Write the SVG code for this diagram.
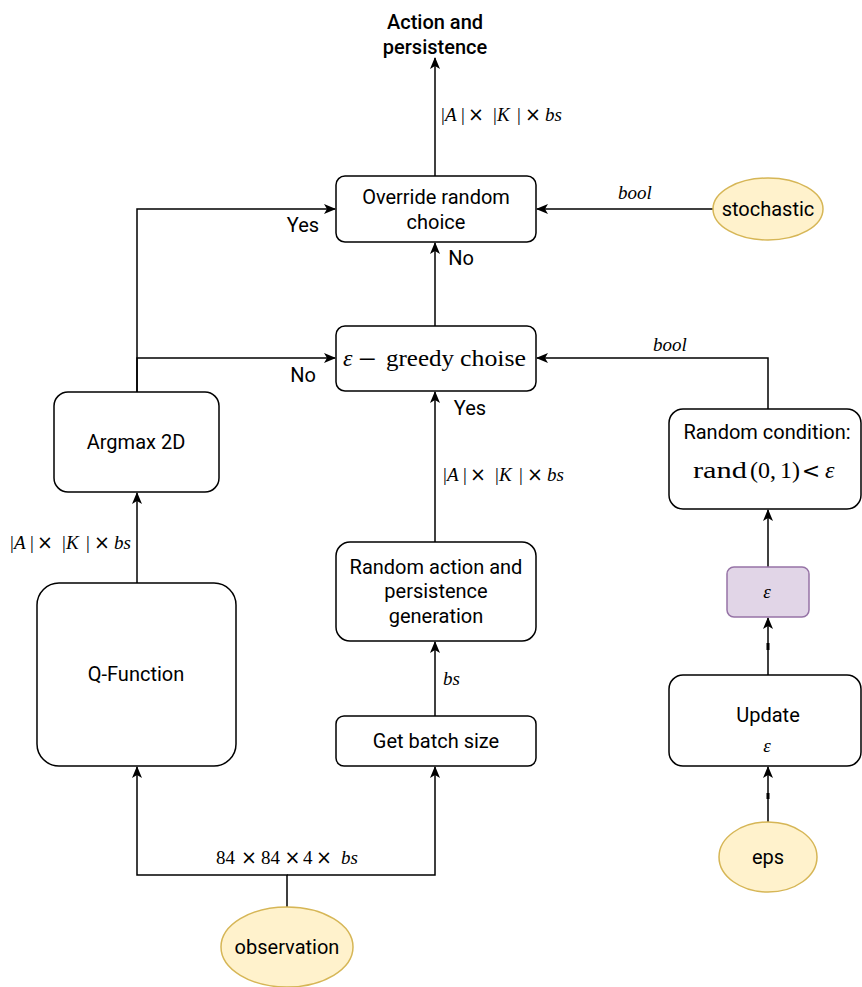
<svg xmlns="http://www.w3.org/2000/svg" width="862" height="987" viewBox="0 0 862 987">
  <style>
    .box { fill: #ffffff; stroke: #000000; stroke-width: 1.5; }
    .term { fill: #fff2cc; stroke: #d6b656; stroke-width: 1.5; }
    .var { fill: #e1d5e7; stroke: #9673a6; stroke-width: 1.5; }
    .lbl { font-family: Roboto, "Liberation Sans", sans-serif; font-size: 20px; fill: #000000; text-anchor: middle; }
    .math { font-family: "Liberation Serif", "DejaVu Serif", serif; font-size: 19px; fill: #000000; }
    .big { font-size: 24px; }
    .op { font-family: "DejaVu Sans", sans-serif; text-anchor: middle; }
    .it { font-style: italic; }
    .mid { text-anchor: middle; }
    .edge { fill: none; stroke: #000000; stroke-width: 1.5; }
    .tick { fill: none; stroke: #000000; stroke-width: 3; }
  </style>
  <defs>
    <marker id="arrow" viewBox="0 0 12 10" refX="11" refY="5" markerWidth="12" markerHeight="10" markerUnits="userSpaceOnUse" orient="auto">
      <path d="M0,0 L12,5 L0,10 L3,5 Z" fill="#000000"/>
    </marker>
  </defs>

  <!-- connectors -->
  <g id="connectors">
    <path class="edge" d="M435,176 V58" marker-end="url(#arrow)"/>
    <path class="edge" d="M713,209 H537" marker-end="url(#arrow)"/>
    <path class="edge" d="M137,392 V209 H335" marker-end="url(#arrow)"/>
    <path class="edge" d="M137,392 V358 H335" marker-end="url(#arrow)"/>
    <path class="edge" d="M435,326 V243" marker-end="url(#arrow)"/>
    <path class="edge" d="M768,409 V358 H537" marker-end="url(#arrow)"/>
    <path class="edge" d="M137,583 V493" marker-end="url(#arrow)"/>
    <path class="edge" d="M435,542 V392" marker-end="url(#arrow)"/>
    <path class="edge" d="M435,716 V642" marker-end="url(#arrow)"/>
    <path class="edge" d="M287,907 V875 H137 V767" marker-end="url(#arrow)"/>
    <path class="edge" d="M287,875 H435 V767" marker-end="url(#arrow)"/>
    <path class="edge" d="M768,567 V510" marker-end="url(#arrow)"/>
    <path class="edge" d="M768,675 V618" marker-end="url(#arrow)"/>
    <path class="tick" d="M768,643 V650"/>
    <path class="edge" d="M768,822 V767" marker-end="url(#arrow)"/>
    <path class="tick" d="M768,793 V799"/>

    <!-- edge labels: |A| x |K| x bs -->
    <g class="math">
      <text y="121"><tspan x="441">|</tspan><tspan class="it" x="445">A</tspan><tspan x="461">|</tspan></text>
      <text class="op" x="476" y="121">×</text>
      <text y="121"><tspan x="493">|</tspan><tspan class="it" x="497">K</tspan><tspan x="517">|</tspan></text>
      <text class="op" x="533" y="121">×</text>
      <text class="it" x="545" y="121">bs</text>
    </g>
    <text class="math it mid" x="635" y="199">bool</text>
    <text class="lbl" x="303" y="232">Yes</text>
    <text class="lbl" x="461" y="265">No</text>
    <text class="math it mid" x="670" y="351">bool</text>
    <text class="lbl" x="303" y="382">No</text>
    <text class="lbl" x="470" y="415">Yes</text>
    <g class="math">
      <text y="481"><tspan x="443">|</tspan><tspan class="it" x="447">A</tspan><tspan x="463">|</tspan></text>
      <text class="op" x="478" y="481">×</text>
      <text y="481"><tspan x="495">|</tspan><tspan class="it" x="499">K</tspan><tspan x="519">|</tspan></text>
      <text class="op" x="535" y="481">×</text>
      <text class="it" x="547" y="481">bs</text>
    </g>
    <g class="math">
      <text y="549"><tspan x="10">|</tspan><tspan class="it" x="14">A</tspan><tspan x="30">|</tspan></text>
      <text class="op" x="45" y="549">×</text>
      <text y="549"><tspan x="62">|</tspan><tspan class="it" x="66">K</tspan><tspan x="86">|</tspan></text>
      <text class="op" x="102" y="549">×</text>
      <text class="it" x="114" y="549">bs</text>
    </g>
    <text class="math it" x="443" y="685">bs</text>
    <g class="math" font-size="20">
      <text x="216" y="864">84</text>
      <text class="op" x="249" y="864">×</text>
      <text x="261" y="864">84</text>
      <text class="op" x="292.5" y="864">×</text>
      <text x="303" y="864">4</text>
      <text class="op" x="324" y="864">×</text>
      <text class="it" x="341" y="864">bs</text>
    </g>
  </g>

  <!-- output label -->
  <g id="output">
    <text class="lbl" x="435" y="29" font-weight="500">Action and</text>
    <text class="lbl" x="435" y="54" font-weight="500">persistence</text>
  </g>

  <g id="override">
    <rect class="box" x="336" y="176" width="200" height="66" rx="9"/>
    <text class="lbl" x="436" y="204">Override random</text>
    <text class="lbl" x="436" y="229">choice</text>
  </g>

  <g id="stochastic">
    <ellipse class="term" cx="768" cy="209" rx="55" ry="31"/>
    <text class="lbl" x="768" y="216">stochastic</text>
  </g>

  <g id="greedy">
    <rect class="box" x="336" y="326" width="200" height="65" rx="9"/>
    <g class="math big">
      <text class="it" x="343" y="366">ε</text>
      <text class="mid" x="367" y="370" font-size="32">−</text>
      <text x="386" y="366" textLength="68" lengthAdjust="spacingAndGlyphs">greedy</text>
      <text x="460" y="366" textLength="66" lengthAdjust="spacingAndGlyphs">choise</text>
    </g>
  </g>

  <g id="argmax">
    <rect class="box" x="54" y="392" width="165" height="100" rx="14"/>
    <text class="lbl" x="136" y="449">Argmax 2D</text>
  </g>

  <g id="random-condition">
    <rect class="box" x="669" y="409" width="192" height="100" rx="14"/>
    <text class="lbl" x="767" y="439">Random condition:</text>
    <g class="math big">
      <text x="693" y="478" textLength="54" lengthAdjust="spacingAndGlyphs">rand</text>
      <text x="750" y="478">(0,</text>
      <text x="780" y="478">1)</text>
      <text class="op" x="811" y="478" font-size="22">&lt;</text>
      <text class="it" x="825" y="478">ε</text>
    </g>
  </g>

  <g id="qfunction">
    <rect class="box" x="37" y="583" width="199" height="183" rx="22"/>
    <text class="lbl" x="136" y="681">Q-Function</text>
  </g>

  <g id="random-action">
    <rect class="box" x="336" y="542" width="200" height="99" rx="14"/>
    <text class="lbl" x="436" y="574">Random action and</text>
    <text class="lbl" x="436" y="598">persistence</text>
    <text class="lbl" x="436" y="623">generation</text>
  </g>

  <g id="batch-size">
    <rect class="box" x="336" y="716" width="200" height="50" rx="8"/>
    <text class="lbl" x="436" y="748">Get batch size</text>
  </g>

  <g id="epsilon">
    <rect class="var" x="727" y="567" width="82" height="50" rx="7"/>
    <text class="math it mid" x="767" y="598" font-size="22">ε</text>
  </g>

  <g id="update">
    <rect class="box" x="669" y="675" width="192" height="91" rx="14"/>
    <text class="lbl" x="768" y="722">Update</text>
    <text class="math it mid" x="767" y="752" font-size="22">ε</text>
  </g>

  <g id="eps">
    <ellipse class="term" cx="768" cy="857" rx="49" ry="35"/>
    <text class="lbl" x="768" y="864">eps</text>
  </g>

  <g id="observation">
    <ellipse class="term" cx="287" cy="947" rx="66" ry="40"/>
    <text class="lbl" x="287" y="954">observation</text>
  </g>
</svg>
